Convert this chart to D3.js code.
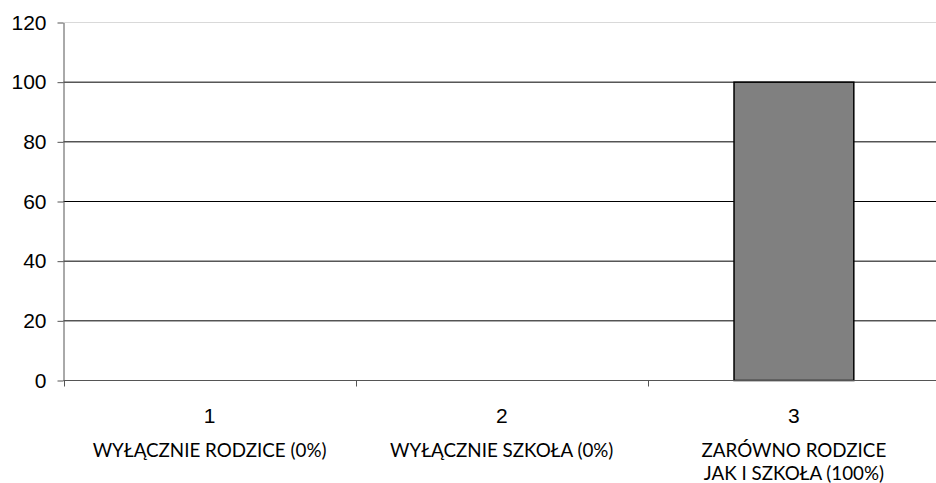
<!DOCTYPE html>
<html>
<head>
<meta charset="utf-8">
<script src="https://cdn.jsdelivr.net/npm/d3@7"></script>
<style>
  body { margin: 0; background: #fff; }
  svg { display: block; }
</style>
</head>
<body>
<div id="chart"></div>
<script>
const categories = ["1", "2", "3"];
const labels = [
  ["WYŁĄCZNIE RODZICE (0%)"],
  ["WYŁĄCZNIE SZKOŁA (0%)"],
  ["ZARÓWNO RODZICE", "JAK I SZKOŁA (100%)"]
];
const values = [0, 0, 100];
const yTicks = [0, 20, 40, 60, 80, 100, 120];

const W = 936, H = 483;
const svg = d3.select("#chart").append("svg")
  .attr("width", W).attr("height", H);

const x = d3.scaleBand().domain(categories).range([63.5, 940]).padding(0);
const y = d3.scaleLinear().domain([0, 120]).range([380.5, 22.5]);

// grid lines
svg.selectAll("line.grid")
  .data(yTicks.filter(d => d > 0))
  .enter().append("line")
    .attr("class", "grid")
    .attr("x1", 63.5).attr("x2", W)
    .attr("y1", d => y(d)).attr("y2", d => y(d))
    .attr("stroke", d => d === 120 ? "#d9d9d9" : "#000")
    .attr("stroke-width", 1);

// bars
const barW = x.bandwidth() * 0.41;
svg.selectAll("rect.bar")
  .data(values)
  .enter().append("rect")
    .attr("class", "bar")
    .attr("x", (d, i) => x(categories[i]) + x.bandwidth() / 2 - barW / 2)
    .attr("y", d => y(d))
    .attr("width", barW)
    .attr("height", d => y(0) - y(d))
    .attr("fill", "#808080")
    .attr("stroke", "#000")
    .attr("stroke-width", 1.5);

// y axis
const yAxis = svg.append("g")
  .attr("transform", "translate(63.5,0)")
  .call(d3.axisLeft(y).tickValues(yTicks).tickSize(6).tickSizeOuter(0).tickPadding(11));
yAxis.select(".domain").attr("stroke", "#555");
yAxis.selectAll(".tick line").attr("stroke", "#555");
yAxis.selectAll("text")
  .attr("font-family", "'Liberation Sans', Arial, sans-serif")
  .style("font-family", "'Liberation Sans', Arial, sans-serif")
  .style("font-size", "21px")
  .attr("fill", "#000");

// x axis line and ticks at band edges
svg.append("line")
  .attr("x1", 63.5).attr("x2", W)
  .attr("y1", y(0)).attr("y2", y(0))
  .attr("stroke", "#555");
svg.selectAll("line.xtick")
  .data(categories)
  .enter().append("line")
    .attr("class", "xtick")
    .attr("x1", d => Math.round(x(d)) + 0.5).attr("x2", d => Math.round(x(d)) + 0.5)
    .attr("y1", y(0)).attr("y2", y(0) + 6)
    .attr("stroke", "#555");

// category numbers
svg.selectAll("text.num")
  .data(categories)
  .enter().append("text")
    .attr("class", "num")
    .attr("x", d => x(d) + x.bandwidth() / 2)
    .attr("y", 423)
    .attr("text-anchor", "middle")
    .style("font-family", "'Liberation Sans', Arial, sans-serif")
    .style("font-size", "21px")
    .text(d => d);

// category labels
const lab = svg.selectAll("text.lab")
  .data(categories)
  .enter().append("text")
    .attr("class", "lab")
    .attr("text-anchor", "middle")
    .style("font-family", "Lato, 'Open Sans', sans-serif")
    .style("font-size", "18.8px");
lab.selectAll("tspan")
  .data((d, i) => labels[i].map(t => ({ t: t, c: d })))
  .enter().append("tspan")
    .attr("x", d => x(d.c) + x.bandwidth() / 2)
    .attr("y", (d, j) => 456.5 + j * 23.5)
    .text(d => d.t);
</script>
</body>
</html>
